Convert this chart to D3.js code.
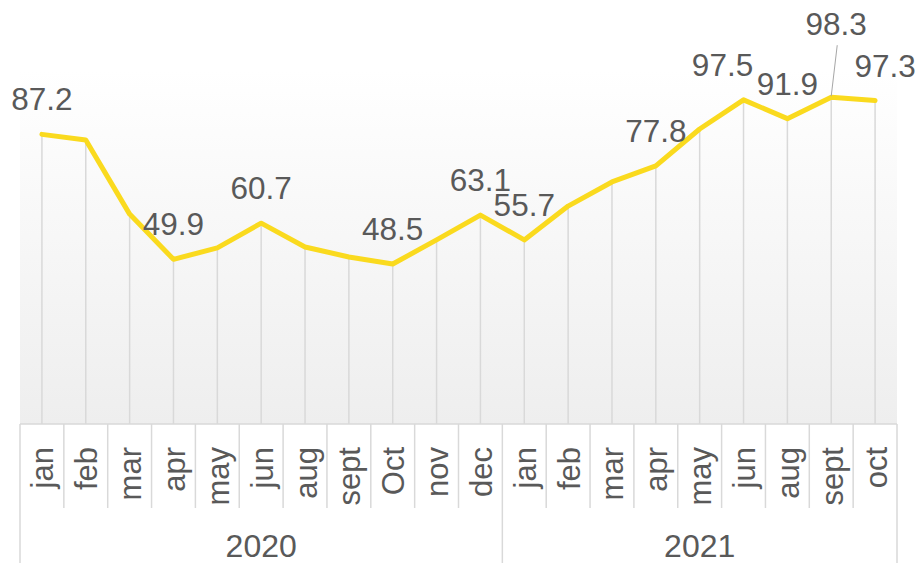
<!DOCTYPE html>
<html><head><meta charset="utf-8">
<script src="https://cdn.jsdelivr.net/npm/d3@7"></script>
<style>body{margin:0;background:#fff}svg{display:block}text{font-family:"Liberation Sans",Arial,sans-serif;fill:#595959}</style>
</head><body><svg id="c" width="918" height="563"></svg>
<script>
const years = ["2020","2021"];
const months2020 = ["jan","feb","mar","apr","may","jun","aug","sept","Oct","nov","dec"];
const months2021 = ["jan","feb","mar","apr","may","jun","aug","sept","oct"];
const values2020 = [87.2,85.5,63.4,49.9,53.3,60.7,53.6,50.6,48.5,55.7,63.1];
const values2021 = [55.7,65.8,73.0,77.8,88.8,97.5,91.9,98.3,97.3];
const shownLabels2020 = [true,false,false,true,false,true,false,false,true,false,true];
const shownLabels2021 = [true,false,false,true,false,true,true,true,true];

// label nudges (layout, not data)
const labelNudge = {"2021-5":[-21,0],"2021-7":[5,-38],"2021-8":[10,0]};

const data = [];
months2020.forEach((m,i)=>data.push({year:"2020",month:m,value:values2020[i],show:shownLabels2020[i],key:"2020-"+i}));
months2021.forEach((m,i)=>data.push({year:"2021",month:m,value:values2021[i],show:shownLabels2021[i],key:"2021-"+i}));

const svg = d3.select("#c");
const left=20,right=897,plotTop=70,plotBottom=424;
const x = d3.scaleBand().domain(d3.range(data.length)).range([left,right]).padding(0);
const y = d3.scaleLinear().domain([0,100]).range([426.5,91.5]);
const cx = i => x(i)+x.bandwidth()/2;

const defs = svg.append("defs");
const g = defs.append("linearGradient").attr("id","bg").attr("x1",0).attr("y1",0).attr("x2",0).attr("y2",1);
g.append("stop").attr("offset","0%").attr("stop-color","#ffffff");
g.append("stop").attr("offset","100%").attr("stop-color","#eeeeee");
svg.append("rect").attr("x",left).attr("y",plotTop).attr("width",right-left).attr("height",plotBottom-plotTop).attr("fill","url(#bg)");

// drop lines
svg.append("g").selectAll("line").data(data).join("line")
  .attr("x1",(d,i)=>cx(i)).attr("x2",(d,i)=>cx(i))
  .attr("y1",d=>y(d.value)).attr("y2",plotBottom)
  .attr("stroke","#d9d9d9").attr("stroke-width",1.5);

// axis line
svg.append("line").attr("x1",left).attr("x2",right).attr("y1",plotBottom).attr("y2",plotBottom).attr("stroke","#d9d9d9").attr("stroke-width",1.5);

// category separators
const sepG = svg.append("g").attr("stroke","#d9d9d9").attr("stroke-width",1.5);
const yearStart = [0, months2020.length, data.length];
d3.range(data.length+1).forEach(k=>{
  const xx = k<data.length ? x(k) : right;
  const full = yearStart.includes(k);
  sepG.append("line").attr("x1",xx).attr("x2",xx).attr("y1",plotBottom).attr("y2",full?563:508);
});

// month labels
svg.append("g").selectAll("text").data(data).join("text")
  .attr("transform",(d,i)=>`translate(${cx(i)},447) rotate(-90)`)
  .attr("text-anchor","end").attr("dy","0.37em")
  .attr("font-size",31).text(d=>d.month);

// year labels
years.forEach((yr,k)=>{
  const x0 = x(yearStart[k]), x1 = yearStart[k+1]<data.length? x(yearStart[k+1]) : right;
  svg.append("text").attr("x",(x0+x1)/2).attr("y",557).attr("text-anchor","middle").attr("font-size",32).text(yr);
});

// line
svg.append("path").datum(data)
  .attr("d",d3.line().x((d,i)=>cx(i)).y(d=>y(d.value)))
  .attr("fill","none").attr("stroke","#FADA1E").attr("stroke-width",5).attr("stroke-linejoin","round").attr("stroke-linecap","round");

// data labels
const lab = svg.append("g");
data.forEach((d,i)=>{
  if(!d.show) return;
  const n = labelNudge[d.key]||[0,0];
  const lx = cx(i)+n[0], ly = y(d.value)-24+n[1];
  if(d.key==="2021-7"){
    lab.append("line").attr("x1",cx(i)).attr("y1",y(d.value)-1).attr("x2",lx+1).attr("y2",ly+10)
      .attr("stroke","#a6a6a6").attr("stroke-width",1);
  }
  lab.append("text").attr("x",lx).attr("y",ly).attr("text-anchor","middle").attr("font-size",31.5).text(d.value.toFixed(1));
});
</script></body></html>
